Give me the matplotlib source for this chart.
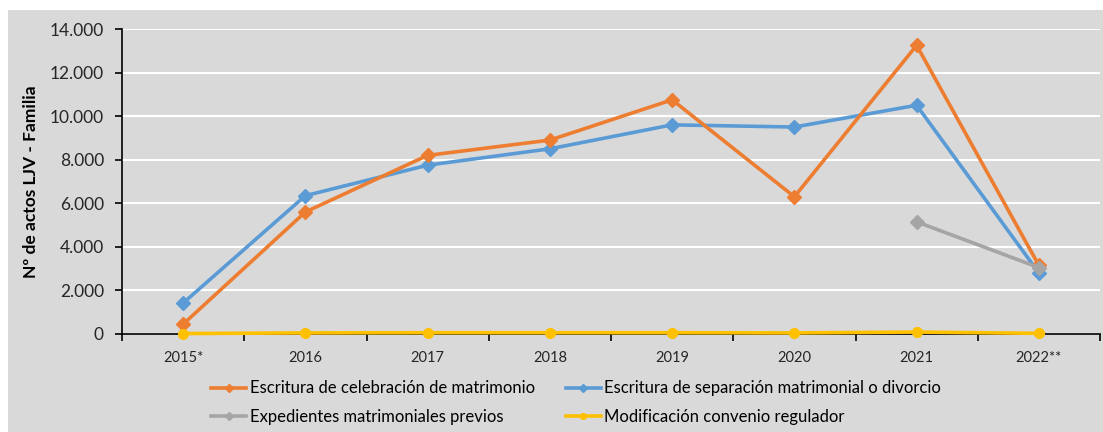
import numpy as np
import matplotlib.pyplot as plt
from matplotlib.patches import Rectangle
from matplotlib.ticker import FuncFormatter, FixedLocator

plt.rcParams['font.family'] = ['Lato', 'DejaVu Sans']

years = ['2015*', '2016', '2017', '2018', '2019', '2020', '2021', '2022**']
celebracion = [450, 5600, 8200, 8900, 10750, 6300, 13250, 3150]
separacion = [1420, 6350, 7750, 8500, 9600, 9500, 10500, 2800]
expedientes = [np.nan, np.nan, np.nan, np.nan, np.nan, np.nan, 5150, 3050]
modificacion = [20, 50, 60, 60, 60, 50, 90, 30]

labels = ['Escritura de celebración de matrimonio',
          'Escritura de separación matrimonial o divorcio',
          'Expedientes matrimoniales previos',
          'Modificación convenio regulador']

fig = plt.figure(figsize=(11.03, 4.32), dpi=100, facecolor='white')
bg = Rectangle((8 / 1103, 0), 1, 1 - 10 / 432, transform=fig.transFigure,
               facecolor='#d9d9d9', edgecolor='none', zorder=-10)
fig.add_artist(bg)
ax = fig.add_axes([122 / 1103, 1 - 334 / 432, (1100 - 122) / 1103, (334 - 29) / 432])
ax.set_facecolor('#d9d9d9')

x = np.arange(len(years))
l1, = ax.plot(x, celebracion, color='#ED7D31', lw=2.6, marker='D', ms=7, label=labels[0], zorder=4)
l2, = ax.plot(x, separacion, color='#5B9BD5', lw=2.6, marker='D', ms=7, label=labels[1], zorder=3)
l3, = ax.plot(x, expedientes, color='#A5A5A5', lw=2.6, marker='D', ms=7, label=labels[2], zorder=5)
l4, = ax.plot(x, modificacion, color='#FFC000', lw=2.6, marker='o', ms=7, label=labels[3], zorder=6, clip_on=False)

ax.set_xlim(-0.5, len(years) - 0.5)
ax.set_ylim(0, 14000)
ax.set_yticks(np.arange(0, 14001, 2000))
ax.yaxis.set_major_formatter(FuncFormatter(lambda v, p: f'{int(v):,}'.replace(',', '.')))
ax.grid(axis='y', color='white', lw=1.5)
ax.set_axisbelow(True)

ax.set_xticks(x)
ax.set_xticklabels(years, fontsize=10.5, color='#262626')
ax.xaxis.set_minor_locator(FixedLocator(np.arange(-0.5, len(years), 1)))
ax.tick_params(axis='x', which='major', length=0, pad=12)
ax.tick_params(axis='x', which='minor', length=5, width=1.2, direction='out')
ax.tick_params(axis='y', length=5, width=1.2, labelsize=12.5, labelcolor='#262626', pad=8)

for s in ['top', 'right']:
    ax.spines[s].set_visible(False)
for s in ['left', 'bottom']:
    ax.spines[s].set_color('black')
    ax.spines[s].set_linewidth(1.2)

ax.set_ylabel('Nº de actos LJV - Familia', fontsize=12.5, fontweight='bold', labelpad=8)

fig.legend(handles=[l1, l3, l2, l4], ncol=2, loc='upper left',
           bbox_to_anchor=(203 / 1103, 1 - 372 / 432), frameon=False,
           fontsize=12, handlelength=2.1, handletextpad=0.2, columnspacing=1.85,
           labelspacing=0.75, markerscale=0.6, borderpad=0)

fig.savefig('out.png', dpi=100)
